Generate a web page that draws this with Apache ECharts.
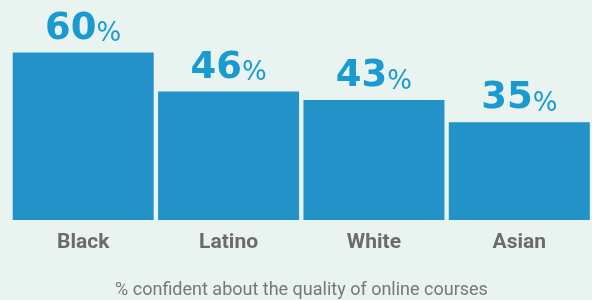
<!DOCTYPE html>
<html>
<head>
<meta charset="utf-8">
<script src="https://cdn.jsdelivr.net/npm/echarts@6/dist/echarts.min.js"></script>
<style>
  html, body { margin: 0; padding: 0; background: #e9f3f0; }
  #chart { width: 592px; height: 300px; }
</style>
</head>
<body>
<div id="chart"></div>
<script>
// Chart data
const groups = ['Black', 'Latino', 'White', 'Asian']
const confident = [60, 46, 43, 35]
const footnote = '% confident about the quality of online courses'

const chart = echarts.init(document.getElementById('chart'))

const option = {
  backgroundColor: '#e9f3f0',
  animation: false,
  grid: { left: 10.5, right: -2.5, top: 24.5, bottom: 80 },
  xAxis: {
    type: 'category',
    data: groups,
    axisLine: { show: false },
    axisTick: { show: false },
    axisLabel: {
      margin: 12,
      fontFamily: 'Roboto',
      fontWeight: 'bold',
      fontSize: 21,
      color: '#6b6b6b'
    }
  },
  yAxis: {
    type: 'value',
    min: 0,
    max: 70,
    show: false
  },
  series: [
    {
      type: 'bar',
      data: confident,
      barWidth: 141,
      itemStyle: { color: '#2292c8' },
      label: {
        show: true,
        position: 'top',
        distance: 5,
        formatter: (p) => `{n|${p.value}}{p|%}`,
        rich: {
          n: {
            fontFamily: 'DejaVu Sans',
            fontWeight: 'bold',
            fontSize: 37,
            lineHeight: 37,
            color: '#1a9bd0',
            verticalAlign: 'bottom'
          },
          p: {
            fontFamily: 'DejaVu Sans',
            fontSize: 26,
            lineHeight: 28,
            color: '#1a9bd0',
            verticalAlign: 'bottom'
          }
        }
      }
    }
  ],
  graphic: [
    {
      type: 'text',
      x: 301.5,
      y: 290,
      style: {
        text: footnote,
        fill: '#777777',
        font: '18px Roboto',
        textAlign: 'center',
        textVerticalAlign: 'middle',
        align: 'center',
        verticalAlign: 'middle'
      }
    }
  ]
}

chart.setOption(option)
</script>
</body>
</html>
